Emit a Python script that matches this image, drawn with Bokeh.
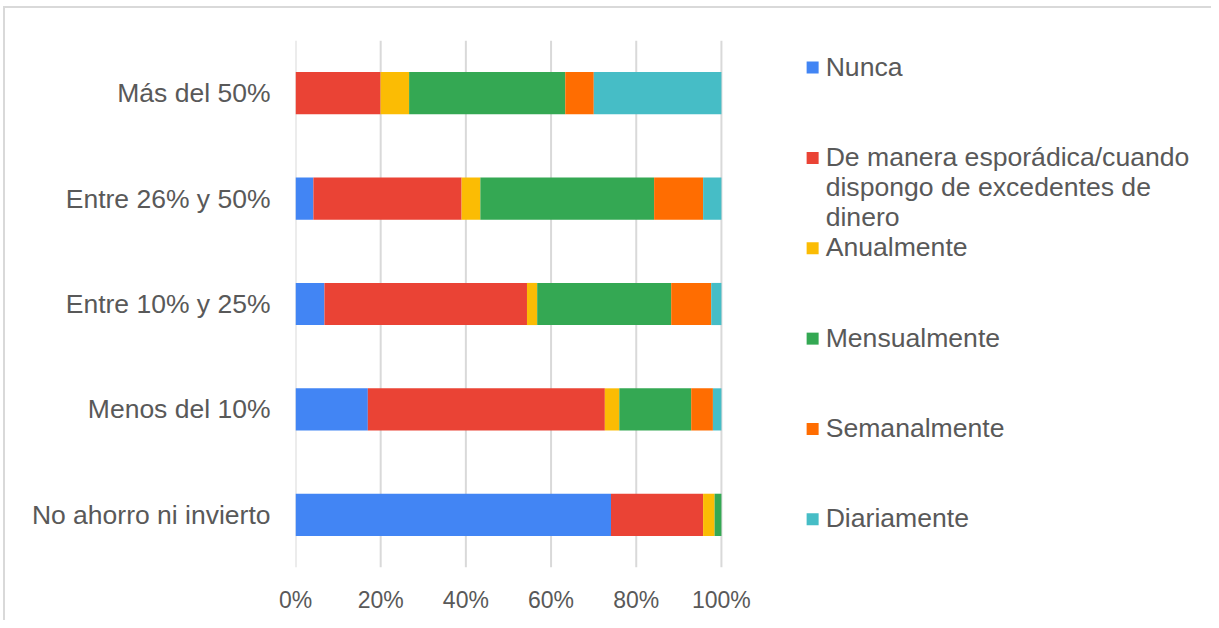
from bokeh.plotting import figure
from bokeh.models import ColumnDataSource, FixedTicker, NumeralTickFormatter, Range1d
from bokeh.core.properties import value
from bokeh.embed import file_html
from bokeh.resources import INLINE

# ---- data (bottom to top) ----
categories = ["No ahorro ni invierto", "Menos del 10%", "Entre 10% y 25%",
              "Entre 26% y 50%", "Más del 50%"]
nunca      = [74.0, 17.0,  6.8,  4.2,  0.0]
esporadica = [21.6, 55.7, 47.6, 34.8, 20.0]
anual      = [ 2.7,  3.4,  2.4,  4.4,  6.7]
mensual    = [ 1.6, 16.9, 31.5, 40.8, 36.7]
semanal    = [ 0.0,  5.1,  9.4, 11.5,  6.7]
diaria     = [ 0.0,  2.0,  2.4,  4.3, 30.0]

series_names = ["Nunca", "De manera esporádica/cuando\ndispongo de excedentes de\ndinero",
                "Anualmente", "Mensualmente", "Semanalmente", "Diariamente"]
colors = ["#4285F4", "#EA4335", "#FBBC04", "#34A853", "#FF6D01", "#46BDC6"]
x_ticks = [0, 0.2, 0.4, 0.6, 0.8, 1.0]

series = [nunca, esporadica, anual, mensual, semanal, diaria]
keys = ["s0", "s1", "s2", "s3", "s4", "s5"]
totals = [sum(v[i] for v in series) for i in range(len(categories))]
data = {"y": [i + 0.5 for i in range(len(categories))]}
for k, v in zip(keys, series):
    data[k] = [v[i] / totals[i] for i in range(len(categories))]
source = ColumnDataSource(data)

FONT = "Liberation Sans"
TXT = "#595959"
GRID = "#d9d9d9"

W, H = 1208, 614          # border-box size (includes the 2px left/top border)
CW, CH = W - 2, H - 2     # canvas size
ML, MT, MB = 290, 32, 55
PX_PER_UNIT = 425.0
frame_w = CW - ML
frame_h = CH - MT - MB
n = len(categories)

p = figure(width=W, height=H, output_backend="svg", toolbar_location=None,
           x_range=Range1d(0, frame_w / PX_PER_UNIT), y_range=Range1d(0, n),
           min_border_left=ML, min_border_top=MT, min_border_bottom=MB,
           min_border_right=0)
p.styles = {"border-left": "2px solid #d9d9d9", "border-top": "2px solid #d9d9d9",
            "margin-left": "3px", "margin-top": "6px"}
p.outline_line_color = None
p.xgrid.visible = False
p.ygrid.visible = False
p.background_fill_color = "white"

# gridlines (only 0..100%)
p.segment(x0=x_ticks, y0=[0] * len(x_ticks), x1=x_ticks, y1=[n] * len(x_ticks),
          line_color=GRID, line_width=2)

p.hbar_stack(keys, y="y", height=0.4, color=colors, source=source, line_color=None)

# axes
p.xaxis.ticker = FixedTicker(ticks=x_ticks)
p.xaxis.formatter = NumeralTickFormatter(format="0%")
p.xaxis.axis_line_color = None
p.xaxis.major_tick_line_color = None
p.xaxis.minor_tick_line_color = None
p.xaxis.major_tick_out = 0
p.xaxis.major_label_standoff = 19
p.xaxis.major_label_text_font = FONT
p.xaxis.major_label_text_font_size = "23px"
p.xaxis.major_label_text_color = TXT

p.yaxis.ticker = FixedTicker(ticks=data["y"])
p.yaxis.major_label_overrides = {yy: c for yy, c in zip(data["y"], categories)}
p.yaxis.axis_line_color = None
p.yaxis.major_tick_line_color = None
p.yaxis.minor_tick_line_color = None
p.yaxis.major_tick_out = 0
p.yaxis.major_label_standoff = 25
p.yaxis.major_label_text_font = FONT
p.yaxis.major_label_text_font_size = "26.5px"
p.yaxis.major_label_text_color = TXT

# legend (manual, to the right of the plot)
def px_x(px):  # frame pixel offset -> data x
    return px / PX_PER_UNIT

def px_y(py):  # pixels from frame top -> data y
    return n - py / (frame_h / n)

leg_sq_x = px_x(516)
leg_tx_x = px_x(529)
first = 26
step = 90
line_h = 30
sq_x, sq_y, tx_x, tx_y, tx = [], [], [], [], []
for i, name in enumerate(series_names):
    top = first + i * step
    sq_x.append(leg_sq_x)
    sq_y.append(px_y(top + 1))
    for j, line in enumerate(name.split("\n")):
        tx_x.append(leg_tx_x)
        tx_y.append(px_y(top + j * line_h))
        tx.append(line)

p.rect(x=sq_x, y=sq_y, width=12, height=12, width_units="screen", height_units="screen",
       fill_color=colors, line_color=None)
p.text(x=tx_x, y=tx_y, text=tx, text_font=value(FONT), text_font_size="26.6px",
       text_color=TXT, text_baseline="middle", text_align="left")

open("out.html", "w").write(file_html(p, INLINE))
